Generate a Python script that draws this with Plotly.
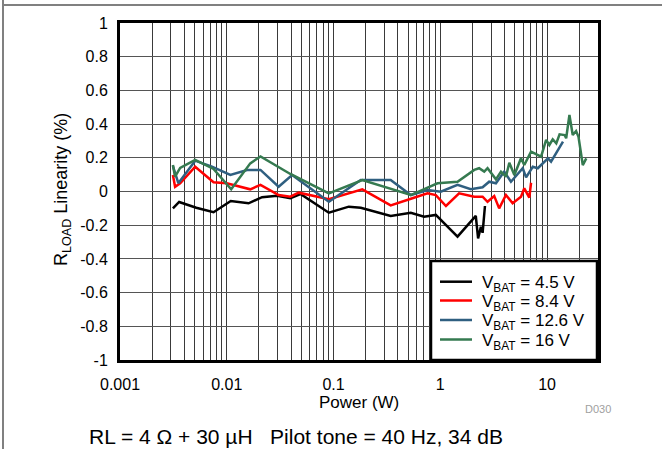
import plotly.graph_objects as go
import numpy as np

# ---- data ----
p_45 = [0.00313, 0.00358, 0.00518, 0.00752, 0.0109, 0.016, 0.0214, 0.0296, 0.0394, 0.049,
        0.0904, 0.139, 0.18, 0.343, 0.529, 0.705, 0.908, 1.45, 2.15, 2.26, 2.40, 2.49, 2.62]
v_45 = [-0.10, -0.062, -0.096, -0.123, -0.056, -0.070, -0.034, -0.025, -0.040, -0.015,
        -0.126, -0.090, -0.096, -0.145, -0.126, -0.150, -0.139, -0.268, -0.145, -0.278, -0.209, -0.245, -0.086]

p_84 = [0.00313, 0.00328, 0.00366, 0.00506, 0.00752, 0.0100, 0.0166, 0.0207, 0.0306, 0.0394,
        0.0472, 0.0904, 0.186, 0.343, 0.548, 0.759, 0.908, 1.13, 1.50, 2.08, 2.49, 2.77, 3.20,
        3.56, 4.12, 4.76, 5.70, 6.12, 6.82, 7.08]
v_84 = [0.098, 0.028, 0.049, 0.147, 0.055, 0.049, 0.013, 0.039, -0.021, -0.031,
        -0.007, -0.046, 0.013, -0.082, -0.040, -0.011, -0.021, -0.086, -0.011, -0.031, -0.031, -0.061, -0.027,
        -0.100, -0.021, -0.070, -0.031, 0.019, -0.037, 0.052]

p_126 = [0.00313, 0.00352, 0.00506, 0.00726, 0.0108, 0.0155, 0.0207, 0.0306, 0.0409, 0.0904,
         0.18, 0.343, 0.529, 0.759, 1.01, 1.45, 1.93, 2.49, 2.87, 3.32, 3.97, 4.59, 5.92, 6.36,
         7.35, 8.19, 10.2, 10.9, 14.1]
v_126 = [0.151, 0.049, 0.183, 0.147, 0.098, 0.128, 0.128, 0.028, 0.098, -0.061,
         0.068, 0.068, -0.021, 0.009, -0.001, 0.039, 0.013, 0.025, 0.058, 0.049, 0.118, 0.058, 0.138, 0.084,
         0.147, 0.138, 0.197, 0.177, 0.296]

p_16 = [0.00313, 0.00328, 0.00366, 0.00506, 0.00752, 0.0110, 0.0166, 0.0207, 0.0394, 0.0904,
        0.186, 0.529, 0.942, 1.45, 2.08, 2.31, 2.58, 2.77, 3.32, 3.70, 4.12, 4.43, 4.94, 5.70,
        6.12, 7.08, 8.79, 9.80, 10.5, 11.3, 12.2, 13.1, 14.6, 15.1, 16.2, 17.4, 18.7, 19.7, 21.6, 23.3]
v_16 = [0.157, 0.088, 0.140, 0.187, 0.134, 0.013, 0.167, 0.208, 0.104, -0.011,
        0.068, -0.021, 0.049, 0.058, 0.128, 0.138, 0.118, 0.138, 0.072, 0.118, 0.088, 0.171, 0.098, 0.197,
        0.157, 0.236, 0.207, 0.306, 0.276, 0.310, 0.286, 0.339, 0.335, 0.316, 0.454, 0.335, 0.359, 0.325, 0.157, 0.197]

series_names = ["V<sub>BAT</sub> = 4.5 V", "V<sub>BAT</sub> = 8.4 V",
                "V<sub>BAT</sub> = 12.6 V", "V<sub>BAT</sub> = 16 V"]
series_colors = ["#000000", "#ff0000", "#2f5f80", "#357a50"]

x_tick_vals = [0.001, 0.01, 0.1, 1, 10]
x_tick_text = ["0.001", "0.01", "0.1", "1", "10"]
y_tick_vals = [1, 0.8, 0.6, 0.4, 0.2, 0, -0.2, -0.4, -0.6, -0.8, -1]
y_tick_text = ["1", "0.8", "0.6", "0.4", "0.2", "0", "-0.2", "-0.4", "-0.6", "-0.8", "-1"]

FONT = "Liberation Sans, Arial, sans-serif"
W, H = 662, 449
L, R, T, B = 120, 64, 23, 89
PW, PH = W - L - R, H - T - B


def px(x):  # pixel x -> paper x
    return (x - L) / PW


def py(y):  # pixel y -> paper y
    return (H - B - y) / PH


fig = go.Figure()
for xs, ys, name, col in zip([p_45, p_84, p_126, p_16], [v_45, v_84, v_126, v_16],
                             series_names, series_colors):
    fig.add_trace(go.Scatter(x=xs, y=ys, mode="lines", name=name, showlegend=False,
                             line=dict(color=col, width=2.5)))

minor_vals = [m * 10.0 ** e for e in range(-3, 2) for m in range(2, 10)]

fig.update_layout(
    width=W, height=H, autosize=False,
    margin=dict(l=L, r=R, t=T, b=B),
    paper_bgcolor="white", plot_bgcolor="white",
    font=dict(family=FONT, color="black", size=16),
    showlegend=False,
)
fig.update_xaxes(type="log", range=[-3, np.log10(30)],
                 tickvals=x_tick_vals, ticktext=x_tick_text, ticks="",
                 showgrid=True, gridcolor="#3a3a3a", gridwidth=1,
                 minor=dict(tickvals=minor_vals, showgrid=True, gridcolor="#3a3a3a", gridwidth=1, ticks=""),
                 showline=True, linecolor="black", linewidth=3, mirror=True,
                 zeroline=False, ticklabelstandoff=8,
                 tickfont=dict(size=16))
fig.update_yaxes(range=[-1, 1], tickvals=y_tick_vals, ticktext=y_tick_text, ticks="",
                 showgrid=True, gridcolor="#555555", gridwidth=1,
                 showline=True, linecolor="black", linewidth=3, mirror=True,
                 zeroline=False, ticklabelstandoff=6,
                 tickfont=dict(size=16))

# legend box (drawn manually for compact row spacing)
fig.add_shape(type="rect", xref="paper", yref="paper",
              x0=px(431), x1=px(597), y0=py(360), y1=py(261),
              fillcolor="white", line=dict(color="black", width=2.5), layer="above")
row_y = [281.7, 300.5, 320, 339.5]
for name, col, ry in zip(series_names, series_colors, row_y):
    fig.add_shape(type="line", xref="paper", yref="paper",
                  x0=px(440), x1=px(472), y0=py(ry), y1=py(ry),
                  line=dict(color=col, width=2.5), layer="above")
    fig.add_annotation(text=name, xref="paper", yref="paper", x=px(480), y=py(ry + 2),
                       showarrow=False, xanchor="left", yanchor="middle",
                       font=dict(size=17))

# axis titles and notes
fig.add_annotation(text="R<sub>LOAD</sub> Linearity (%)", xref="paper", yref="paper",
                   x=px(62), y=py(190), textangle=-90,
                   showarrow=False, font=dict(size=18), xanchor="center", yanchor="middle")
fig.add_annotation(text="Power (W)", xref="paper", yref="paper",
                   x=0.5, y=py(402), showarrow=False, font=dict(size=17),
                   xanchor="center", yanchor="middle")
fig.add_annotation(text="D030", xref="paper", yref="paper",
                   x=px(598), y=py(409), showarrow=False,
                   font=dict(size=11, color="#a0a0a0"), xanchor="center", yanchor="middle")
fig.add_annotation(text="RL = 4 Ω + 30 µH   Pilot tone = 40 Hz, 34 dB", xref="paper", yref="paper",
                   x=px(87), y=py(436), showarrow=False,
                   font=dict(size=21), xanchor="left", yanchor="middle")

# page frame lines (top and left)
fig.add_shape(type="line", xref="paper", yref="paper",
              x0=px(3), x1=px(662), y0=py(5), y1=py(5),
              line=dict(color="#808080", width=2))
fig.add_shape(type="line", xref="paper", yref="paper",
              x0=px(3), x1=px(3), y0=py(-5), y1=py(449),
              line=dict(color="#808080", width=2))

fig.write_html("out.html", config={"displayModeBar": False},
               post_script="document.body.style.margin='0';")
